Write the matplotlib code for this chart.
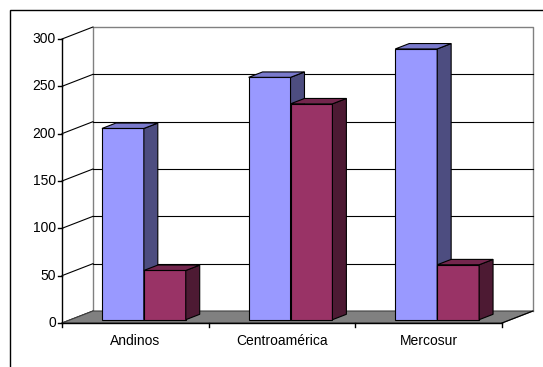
"""Excel-style 3D clustered column chart drawn with plain matplotlib patches."""

import matplotlib

matplotlib.use("Agg")
import matplotlib.pyplot as plt  # noqa: E402
from matplotlib.patches import Rectangle  # noqa: E402

categories = ["Andinos", "Centroamérica", "Mercosur"]
serie_1 = [202, 256, 286]
serie_2 = [52, 228, 58]
y_ticks = [0, 50, 100, 150, 200, 250, 300]

plt.rcParams["font.family"] = ["Liberation Sans", "DejaVu Sans"]

# pixel scale of one data unit (x: category, y: value)
PX = 146.67
PY = 0.9467

# oblique offset from the front plane to the back wall, in data units
DEPTH_X = 31 / PX
DEPTH_Y = 12 / PY

GAP = 1.5
BAR_W = 1 / (2 + GAP)
BAR_F0, BAR_F1 = 0.275, 0.725

faces = [
    ("#9999FF", "#4D4D80", "#7A7ACC"),
    ("#993366", "#4D1A33", "#73264D"),
]

fig = plt.figure(figsize=(5.43, 3.67), dpi=100)
ax = fig.add_axes([0, 0, 1, 1])
ax.set_xlim(-62 / PX, (543 - 62) / PX)
ax.set_ylim((323 - 367) / PY, 323 / PY)
ax.axis("off")

n = len(categories)
top = y_ticks[-1]

# outer chart frame (runs past the right and bottom edges)
ax.add_patch(Rectangle((10 / 543, -0.05), 1.0, 1.05 - 10 / 367,
                       transform=ax.transAxes, fill=False, edgecolor="black",
                       linewidth=1.0, zorder=0))

# back wall
ax.fill([DEPTH_X, n + DEPTH_X, n + DEPTH_X, DEPTH_X],
        [DEPTH_Y, DEPTH_Y, top + DEPTH_Y, top + DEPTH_Y],
        facecolor="white", edgecolor="none", zorder=1)
ax.plot([DEPTH_X, DEPTH_X, n + DEPTH_X, n + DEPTH_X],
        [DEPTH_Y, top + DEPTH_Y, top + DEPTH_Y, DEPTH_Y],
        color="#808080", linewidth=1.0, zorder=2)

# gridlines on the back wall and the side wall
for v in y_ticks:
    ax.plot([0, DEPTH_X], [v, v + DEPTH_Y], color="black", linewidth=0.8, zorder=2)
    if 0 < v < top:
        ax.plot([DEPTH_X, n + DEPTH_X], [v + DEPTH_Y, v + DEPTH_Y],
                color="black", linewidth=0.8, zorder=2)

# floor
ax.fill([0, n, n + DEPTH_X, DEPTH_X], [0, 0, DEPTH_Y, DEPTH_Y],
        facecolor="#808080", edgecolor="#404040", linewidth=0.8, zorder=2)

# axes lines and ticks
ax.plot([0, 0], [0, top], color="black", linewidth=1.0, zorder=3)
ax.plot([0, n], [0, 0], color="black", linewidth=1.0, zorder=3)
ax.plot([n, n + DEPTH_X], [0, DEPTH_Y], color="black", linewidth=0.8, zorder=3)
for v in y_ticks:
    ax.plot([-4 / PX, 0], [v, v], color="black", linewidth=1.0, zorder=3)
    ax.text(-6 / PX, v, str(v), ha="right", va="center", fontsize=10)
for i in range(n + 1):
    ax.plot([i, i], [0, -4 / PY], color="black", linewidth=1.0, zorder=3)
for i, name in enumerate(categories):
    ax.text(i + 0.5, -19, name, ha="center", va="center", fontsize=10)

# columns: front face, side face, top face
sx, sy = BAR_F0 * DEPTH_X, BAR_F0 * DEPTH_Y
dx, dy = (BAR_F1 - BAR_F0) * DEPTH_X, (BAR_F1 - BAR_F0) * DEPTH_Y
z = 4
for i in range(n):
    for j, values in enumerate([serie_1, serie_2]):
        v = values[i]
        front, side, lid = faces[j]
        x0 = i + (1 - 2 * BAR_W) / 2 + j * BAR_W + sx
        x1 = x0 + BAR_W
        ax.bar(x0, v, bottom=sy, width=BAR_W, align="edge", color=front,
               edgecolor="black", linewidth=0.8, zorder=z)
        ax.fill([x1, x1 + dx, x1 + dx, x1], [sy, sy + dy, sy + v + dy, sy + v],
                facecolor=side, edgecolor="black", linewidth=0.8, zorder=z)
        ax.fill([x0, x1, x1 + dx, x0 + dx],
                [sy + v, sy + v, sy + v + dy, sy + v + dy],
                facecolor=lid, edgecolor="black", linewidth=0.8, zorder=z)
        z += 1

fig.savefig("out.png", dpi=100)
